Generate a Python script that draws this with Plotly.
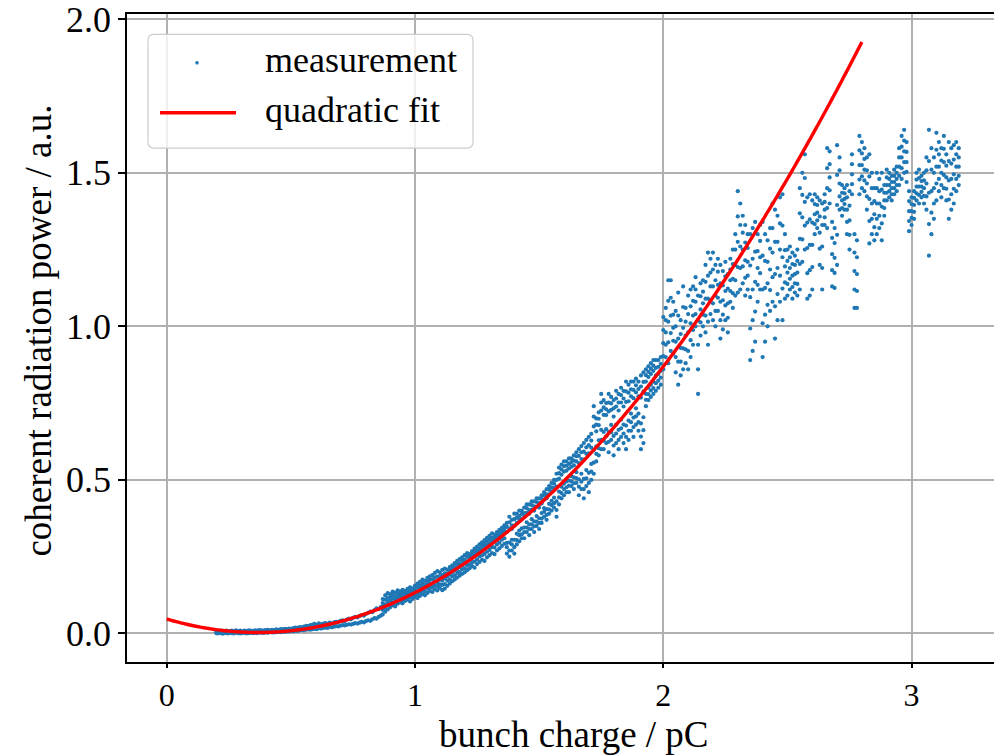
import numpy as np
import plotly.graph_objects as go

# ---- measured data: bunch charge (pC) vs coherent radiation power (a.u.) ----
# low-charge range, narrow band (two rows of samples per charge value)
charge_a = [0.200, 0.206, 0.213, 0.219, 0.226, 0.232, 0.240, 0.247, 0.255, 0.262,
            0.270, 0.279, 0.287, 0.296, 0.304, 0.313, 0.321, 0.330, 0.338, 0.347,
            0.355, 0.364, 0.372, 0.381, 0.390, 0.398, 0.407, 0.416, 0.424, 0.433,
            0.441, 0.450, 0.459, 0.467, 0.476, 0.484, 0.493, 0.502, 0.510, 0.519,
            0.527, 0.536, 0.545, 0.553, 0.562, 0.571, 0.579, 0.588, 0.596, 0.605,
            0.613, 0.622, 0.631, 0.639, 0.648, 0.656, 0.665, 0.674, 0.682, 0.691,
            0.699, 0.708, 0.716, 0.725, 0.734, 0.742, 0.751, 0.759, 0.768, 0.777,
            0.785, 0.794, 0.802, 0.811, 0.820, 0.828, 0.837, 0.845, 0.854, 0.862]
power_a_lo = [0.001, 0.000, 0.002, 0.001, -0.001, 0.002, 0.001, 0.000, 0.002, 0.001,
              0.000, 0.002, 0.001, 0.000, 0.001, 0.002, 0.000, 0.001, 0.002, 0.001,
              0.002, 0.001, 0.003, 0.002, 0.002, 0.003, 0.002, 0.004, 0.003, 0.003,
              0.004, 0.005, 0.004, 0.006, 0.005, 0.007, 0.006, 0.008, 0.007, 0.009,
              0.008, 0.010, 0.011, 0.010, 0.012, 0.013, 0.012, 0.014, 0.015, 0.014,
              0.017, 0.016, 0.018, 0.019, 0.018, 0.021, 0.020, 0.022, 0.024, 0.023,
              0.025, 0.027, 0.026, 0.028, 0.030, 0.029, 0.031, 0.034, 0.032, 0.035,
              0.038, 0.036, 0.040, 0.043, 0.041, 0.046, 0.050, 0.048, 0.054, 0.058]
power_a_hi = [0.006, 0.008, 0.007, 0.009, 0.008, 0.007, 0.009, 0.008, 0.007, 0.009,
              0.008, 0.010, 0.008, 0.009, 0.007, 0.009, 0.008, 0.010, 0.009, 0.008,
              0.010, 0.009, 0.011, 0.010, 0.009, 0.011, 0.012, 0.010, 0.012, 0.011,
              0.013, 0.012, 0.014, 0.013, 0.015, 0.014, 0.016, 0.015, 0.017, 0.019,
              0.018, 0.021, 0.020, 0.022, 0.025, 0.024, 0.027, 0.029, 0.031, 0.028,
              0.033, 0.030, 0.032, 0.034, 0.031, 0.035, 0.033, 0.036, 0.038, 0.037,
              0.041, 0.043, 0.040, 0.045, 0.048, 0.046, 0.051, 0.054, 0.052, 0.057,
              0.060, 0.058, 0.063, 0.067, 0.071, 0.069, 0.076, 0.082, 0.079, 0.086]

# 0.87 - 1.36 pC
charge_b = [0.870, 0.880, 0.890, 0.900, 0.910, 0.920, 0.930, 0.940, 0.950, 0.960,
            0.970, 0.980, 0.990, 1.000, 1.010, 1.020, 1.030, 1.040, 1.050, 1.060,
            1.070, 1.080, 1.090, 1.100, 1.110, 1.120, 1.130, 1.140, 1.150, 1.160,
            1.170, 1.180, 1.190, 1.200, 1.210, 1.220, 1.230, 1.240, 1.250, 1.260,
            1.270, 1.280, 1.290, 1.300, 1.310, 1.320, 1.330, 1.340, 1.350, 1.360]
power_b_1 = [0.062, 0.071, 0.078, 0.085, 0.092, 0.088, 0.097, 0.101, 0.098, 0.106,
             0.110, 0.104, 0.112, 0.118, 0.115, 0.122, 0.128, 0.124, 0.132, 0.138,
             0.135, 0.143, 0.140, 0.148, 0.141, 0.146, 0.155, 0.163, 0.170, 0.176,
             0.182, 0.188, 0.194, 0.199, 0.206, 0.212, 0.219, 0.214, 0.226, 0.233,
             0.240, 0.236, 0.248, 0.255, 0.262, 0.258, 0.270, 0.277, 0.285, 0.292]
power_b_2 = [0.077, 0.081, 0.092, 0.095, 0.101, 0.100, 0.106, 0.113, 0.107, 0.117,
             0.119, 0.117, 0.125, 0.128, 0.127, 0.133, 0.141, 0.136, 0.146, 0.149,
             0.149, 0.155, 0.154, 0.160, 0.158, 0.161, 0.172, 0.176, 0.186, 0.189,
             0.197, 0.200, 0.209, 0.212, 0.221, 0.225, 0.232, 0.234, 0.241, 0.251,
             0.254, 0.259, 0.266, 0.272, 0.281, 0.280, 0.290, 0.296, 0.305, 0.310]
power_b_3 = [0.088, 0.094, 0.102, 0.108, 0.114, 0.111, 0.118, 0.122, 0.119, 0.126,
             0.131, 0.128, 0.135, 0.140, 0.137, 0.146, 0.152, 0.149, 0.158, 0.163,
             0.160, 0.170, 0.166, 0.175, 0.172, 0.180, 0.186, 0.192, 0.199, 0.205,
             0.210, 0.216, 0.222, 0.228, 0.234, 0.240, 0.247, 0.252, 0.259, 0.266,
             0.272, 0.279, 0.285, 0.292, 0.298, 0.305, 0.311, 0.318, 0.324, 0.331]
power_b_4 = [0.099, 0.110, 0.115, 0.119, 0.126, 0.121, 0.130, 0.128, 0.132, 0.133,
             0.139, 0.138, 0.142, 0.148, 0.150, 0.156, 0.164, 0.160, 0.170, 0.175,
             0.176, 0.183, 0.185, 0.187, 0.190, 0.196, 0.196, 0.205, 0.211, 0.216,
             0.224, 0.228, 0.236, 0.240, 0.249, 0.250, 0.257, 0.265, 0.271, 0.277,
             0.285, 0.291, 0.298, 0.305, 0.311, 0.313, 0.321, 0.327, 0.335, 0.341]
power_b_5 = [0.112, 0.124, 0.131, 0.128, 0.136, 0.133, 0.140, 0.137, 0.142, 0.139,
             0.145, 0.150, 0.147, 0.156, 0.162, 0.168, 0.175, 0.172, 0.181, 0.186,
             0.190, 0.197, 0.203, 0.199, 0.207, 0.211, 0.208, 0.216, 0.222, 0.229,
             0.236, 0.242, 0.248, 0.255, 0.262, 0.258, 0.268, 0.276, 0.283, 0.290,
             0.297, 0.304, 0.311, 0.318, 0.326, 0.322, 0.330, 0.337, 0.344, 0.352]

# 1.37 - 1.96 pC
charge_c = [1.37, 1.38, 1.39, 1.40, 1.41, 1.42, 1.43, 1.44, 1.45, 1.46,
            1.47, 1.48, 1.49, 1.50, 1.51, 1.52, 1.53, 1.54, 1.55, 1.56,
            1.57, 1.58, 1.59, 1.60, 1.61, 1.62, 1.63, 1.64, 1.65, 1.66,
            1.67, 1.68, 1.69, 1.70, 1.71, 1.72, 1.73, 1.74, 1.75, 1.76,
            1.77, 1.78, 1.79, 1.80, 1.81, 1.82, 1.83, 1.84, 1.85, 1.86,
            1.87, 1.88, 1.89, 1.90, 1.91, 1.92, 1.93, 1.94, 1.95, 1.96]
power_c_1 = [0.26, 0.25, 0.27, 0.26, 0.29, 0.30, 0.31, 0.31, 0.33, 0.32,
             0.34, 0.33, 0.35, 0.34, 0.36, 0.38, 0.37, 0.39, 0.40, 0.41,
             0.38, 0.42, 0.44, 0.45, 0.46, 0.46, 0.48, 0.47, 0.49, 0.45,
             0.47, 0.44, 0.48, 0.46, 0.50, 0.52, 0.56, 0.58, 0.60, 0.60,
             0.62, 0.59, 0.63, 0.58, 0.62, 0.60, 0.64, 0.62, 0.60, 0.63,
             0.66, 0.64, 0.68, 0.66, 0.60, 0.62, 0.74, 0.76, 0.77, 0.78]
power_c_2 = [0.281, 0.270, 0.290, 0.281, 0.304, 0.320, 0.323, 0.330, 0.345, 0.340,
             0.355, 0.349, 0.364, 0.360, 0.374, 0.396, 0.386, 0.404, 0.418, 0.424,
             0.402, 0.443, 0.457, 0.470, 0.476, 0.481, 0.495, 0.489, 0.506, 0.478,
             0.494, 0.470, 0.505, 0.490, 0.527, 0.556, 0.585, 0.603, 0.630, 0.628,
             0.642, 0.624, 0.655, 0.612, 0.651, 0.630, 0.668, 0.651, 0.640, 0.660,
             0.688, 0.672, 0.707, 0.688, 0.641, 0.662, 0.761, 0.779, 0.791, 0.799]
power_c_3 = [0.295, 0.296, 0.305, 0.305, 0.325, 0.335, 0.342, 0.345, 0.362, 0.355,
             0.372, 0.365, 0.382, 0.375, 0.392, 0.408, 0.405, 0.422, 0.432, 0.442,
             0.430, 0.462, 0.478, 0.488, 0.495, 0.498, 0.512, 0.508, 0.525, 0.502,
             0.520, 0.503, 0.532, 0.523, 0.552, 0.597, 0.609, 0.629, 0.663, 0.656,
             0.665, 0.656, 0.679, 0.643, 0.680, 0.663, 0.696, 0.680, 0.677, 0.693,
             0.716, 0.703, 0.733, 0.716, 0.684, 0.704, 0.780, 0.800, 0.810, 0.820]
power_c_4 = [0.330, 0.341, 0.340, 0.351, 0.360, 0.370, 0.373, 0.380, 0.393, 0.390,
             0.403, 0.400, 0.413, 0.410, 0.423, 0.436, 0.440, 0.453, 0.463, 0.473,
             0.478, 0.504, 0.517, 0.527, 0.530, 0.537, 0.543, 0.547, 0.560, 0.555,
             0.568, 0.566, 0.585, 0.586, 0.605, 0.674, 0.658, 0.678, 0.726, 0.712,
             0.711, 0.723, 0.728, 0.706, 0.739, 0.726, 0.752, 0.739, 0.754, 0.756,
             0.772, 0.766, 0.785, 0.772, 0.768, 0.788, 0.820, 0.835, 0.845, 0.855]
power_c_5 = [0.347, 0.362, 0.352, 0.372, 0.377, 0.383, 0.389, 0.392, 0.408, 0.402,
             0.418, 0.414, 0.428, 0.424, 0.438, 0.450, 0.453, 0.468, 0.476, 0.488,
             0.500, 0.522, 0.534, 0.545, 0.546, 0.552, 0.558, 0.563, 0.577, 0.578,
             0.590, 0.592, 0.606, 0.613, 0.628, 0.706, 0.680, 0.699, 0.752, 0.736,
             0.730, 0.752, 0.749, 0.733, 0.765, 0.752, 0.776, 0.765, 0.788, 0.784,
             0.795, 0.793, 0.808, 0.796, 0.804, 0.819, 0.841, 0.852, 0.862, 0.872]
power_c_6 = [0.36, 0.38, 0.37, 0.39, 0.39, 0.40, 0.40, 0.41, 0.42, 0.42,
             0.43, 0.43, 0.44, 0.44, 0.45, 0.46, 0.47, 0.48, 0.49, 0.50,
             0.52, 0.54, 0.55, 0.56, 0.56, 0.57, 0.57, 0.58, 0.59, 0.60,
             0.61, 0.62, 0.63, 0.64, 0.65, 0.74, 0.70, 0.72, 0.78, 0.76,
             0.75, 0.78, 0.77, 0.76, 0.79, 0.78, 0.80, 0.79, 0.82, 0.81,
             0.82, 0.82, 0.83, 0.82, 0.84, 0.85, 0.86, 0.87, 0.88, 0.89]

# 1.97 - 2.55 pC
charge_d = [1.97, 1.98, 1.99, 2.00, 2.01, 2.02, 2.03, 2.04, 2.05, 2.06,
            2.07, 2.08, 2.09, 2.10, 2.11, 2.12, 2.13, 2.14, 2.15, 2.16,
            2.17, 2.18, 2.19, 2.20, 2.21, 2.22, 2.23, 2.24, 2.25, 2.26,
            2.27, 2.28, 2.29, 2.30, 2.31, 2.32, 2.33, 2.34, 2.35, 2.36,
            2.37, 2.38, 2.39, 2.40, 2.41, 2.42, 2.43, 2.44, 2.45, 2.46,
            2.47, 2.48, 2.49, 2.50, 2.51, 2.52, 2.53, 2.54, 2.55]
power_d_1 = [0.79, 0.80, 0.81, 0.86, 0.90, 0.88, 0.92, 0.91, 0.85, 0.81,
             0.84, 0.86, 0.88, 0.86, 0.90, 0.94, 1.00, 0.78, 0.97, 1.00,
             0.98, 0.94, 1.04, 1.02, 1.00, 1.05, 0.96, 0.99, 1.02, 0.98,
             1.08, 1.06, 1.10, 1.11, 1.12, 1.14, 1.10, 1.12, 0.89, 0.92,
             0.95, 1.08, 1.12, 0.90, 0.95, 1.00, 1.05, 1.08, 0.96, 1.02,
             1.08, 1.02, 1.09, 1.10, 1.12, 1.09, 1.11, 1.10, 1.12]
power_d_2 = [0.815, 0.823, 0.833, 0.903, 0.940, 0.948, 0.978, 0.953, 0.900, 0.885,
             0.885, 0.928, 0.925, 0.920, 0.955, 0.988, 1.040, 0.860, 1.013, 1.038,
             1.035, 1.015, 1.085, 1.075, 1.050, 1.093, 1.020, 1.038, 1.068, 1.028,
             1.115, 1.108, 1.150, 1.193, 1.190, 1.195, 1.158, 1.165, 0.993, 1.020,
             1.048, 1.135, 1.173, 1.010, 1.038, 1.070, 1.118, 1.160, 1.065, 1.105,
             1.165, 1.123, 1.143, 1.138, 1.155, 1.128, 1.140, 1.138, 1.203]
power_d_3 = [0.840, 0.845, 0.855, 0.945, 0.980, 1.015, 1.035, 0.995, 0.950, 0.960,
             0.930, 0.995, 0.970, 0.980, 1.010, 1.035, 1.080, 0.940, 1.055, 1.075,
             1.090, 1.090, 1.130, 1.130, 1.100, 1.135, 1.080, 1.085, 1.115, 1.075,
             1.150, 1.155, 1.200, 1.275, 1.260, 1.250, 1.215, 1.210, 1.095, 1.120,
             1.145, 1.190, 1.225, 1.120, 1.125, 1.140, 1.185, 1.240, 1.170, 1.190,
             1.250, 1.225, 1.195, 1.175, 1.190, 1.165, 1.170, 1.175, 1.285]
power_d_4 = [0.865, 0.868, 0.878, 0.988, 1.020, 1.083, 1.093, 1.038, 1.000, 1.035,
             0.975, 1.063, 1.015, 1.040, 1.065, 1.083, 1.120, 1.020, 1.098, 1.113,
             1.145, 1.165, 1.175, 1.185, 1.150, 1.178, 1.140, 1.133, 1.163, 1.123,
             1.185, 1.203, 1.250, 1.358, 1.330, 1.305, 1.273, 1.255, 1.198, 1.220,
             1.243, 1.245, 1.278, 1.230, 1.213, 1.210, 1.253, 1.320, 1.275, 1.275,
             1.335, 1.328, 1.248, 1.213, 1.225, 1.203, 1.200, 1.213, 1.368]
power_d_5 = [0.89, 0.89, 0.90, 1.03, 1.06, 1.15, 1.15, 1.08, 1.05, 1.11,
             1.02, 1.13, 1.06, 1.10, 1.12, 1.13, 1.16, 1.10, 1.14, 1.15,
             1.20, 1.24, 1.22, 1.24, 1.20, 1.22, 1.20, 1.18, 1.21, 1.17,
             1.22, 1.25, 1.30, 1.44, 1.40, 1.36, 1.33, 1.30, 1.30, 1.32,
             1.34, 1.30, 1.33, 1.34, 1.30, 1.28, 1.32, 1.40, 1.38, 1.36,
             1.42, 1.43, 1.30, 1.25, 1.26, 1.24, 1.23, 1.25, 1.45]

# 2.56 - 3.19 pC
charge_e = [2.56, 2.57, 2.58, 2.59, 2.60, 2.61, 2.62, 2.63, 2.64, 2.65,
            2.66, 2.67, 2.68, 2.69, 2.70, 2.71, 2.72, 2.73, 2.74, 2.75,
            2.76, 2.77, 2.78, 2.79, 2.80, 2.81, 2.82, 2.83, 2.84, 2.85,
            2.86, 2.87, 2.88, 2.89, 2.90, 2.91, 2.92, 2.93, 2.94, 2.95,
            2.96, 2.97, 2.98, 2.99, 3.00, 3.01, 3.02, 3.03, 3.04, 3.05,
            3.06, 3.07, 3.08, 3.09, 3.10, 3.11, 3.12, 3.13, 3.14, 3.15,
            3.16, 3.17, 3.18, 3.19]
power_e_1 = [1.21, 1.25, 1.09, 1.10, 1.12, 1.30, 1.32, 1.20, 1.12, 1.33,
             1.32, 1.40, 1.13, 1.125, 1.20, 1.38, 1.36, 1.38, 1.30, 1.25,
             1.43, 1.06, 1.06, 1.43, 1.45, 1.44, 1.38, 1.27, 1.30, 1.28,
             1.30, 1.32, 1.28, 1.36, 1.41, 1.42, 1.41, 1.43, 1.44, 1.46,
             1.48, 1.50, 1.47, 1.31, 1.33, 1.35, 1.41, 1.40, 1.42, 1.40,
             1.38, 1.23, 1.30, 1.35, 1.41, 1.44, 1.42, 1.45, 1.41, 1.35,
             1.38, 1.40, 1.44, 1.46]
power_e_2 = [1.283, 1.328, 1.173, 1.183, 1.193, 1.333, 1.345, 1.253, 1.190, 1.355,
             1.385, 1.443, 1.183, 1.174, 1.298, 1.423, 1.385, 1.398, 1.340, 1.298,
             1.463, 1.120, 1.115, 1.478, 1.488, 1.475, 1.423, 1.343, 1.350, 1.323,
             1.350, 1.360, 1.335, 1.385, 1.435, 1.440, 1.430, 1.450, 1.460, 1.490,
             1.515, 1.535, 1.503, 1.343, 1.353, 1.373, 1.433, 1.428, 1.438, 1.425,
             1.423, 1.333, 1.370, 1.400, 1.465, 1.480, 1.460, 1.493, 1.448, 1.413,
             1.430, 1.448, 1.480, 1.490]
power_e_3 = [1.355, 1.405, 1.255, 1.265, 1.265, 1.365, 1.370, 1.305, 1.260, 1.380,
             1.450, 1.485, 1.235, 1.223, 1.395, 1.465, 1.410, 1.415, 1.380, 1.345,
             1.495, 1.180, 1.170, 1.525, 1.525, 1.510, 1.465, 1.415, 1.400, 1.365,
             1.400, 1.400, 1.390, 1.410, 1.460, 1.460, 1.450, 1.470, 1.480, 1.520,
             1.550, 1.570, 1.535, 1.375, 1.375, 1.395, 1.455, 1.455, 1.455, 1.450,
             1.465, 1.435, 1.440, 1.450, 1.520, 1.520, 1.500, 1.535, 1.485, 1.475,
             1.480, 1.495, 1.520, 1.520]
power_e_4 = [1.428, 1.483, 1.338, 1.348, 1.338, 1.398, 1.395, 1.358, 1.330, 1.405,
             1.515, 1.528, 1.288, 1.271, 1.493, 1.508, 1.435, 1.433, 1.420, 1.393,
             1.528, 1.240, 1.225, 1.573, 1.563, 1.545, 1.508, 1.488, 1.450, 1.408,
             1.450, 1.440, 1.445, 1.435, 1.485, 1.480, 1.470, 1.490, 1.500, 1.550,
             1.585, 1.605, 1.568, 1.408, 1.398, 1.418, 1.478, 1.483, 1.473, 1.475,
             1.508, 1.538, 1.510, 1.500, 1.575, 1.560, 1.540, 1.578, 1.523, 1.538,
             1.530, 1.543, 1.560, 1.550]
power_e_5 = [1.50, 1.56, 1.42, 1.43, 1.41, 1.43, 1.42, 1.41, 1.40, 1.43,
             1.58, 1.57, 1.34, 1.32, 1.59, 1.55, 1.46, 1.45, 1.46, 1.44,
             1.56, 1.30, 1.28, 1.62, 1.60, 1.58, 1.55, 1.56, 1.50, 1.45,
             1.50, 1.48, 1.50, 1.46, 1.51, 1.50, 1.49, 1.51, 1.52, 1.58,
             1.62, 1.64, 1.60, 1.44, 1.42, 1.44, 1.50, 1.51, 1.49, 1.50,
             1.55, 1.64, 1.58, 1.55, 1.63, 1.60, 1.58, 1.62, 1.56, 1.60,
             1.58, 1.59, 1.60, 1.58]

# quadratic fit P(Q) = a*Q^2 + b*Q + c, evaluated over the fitted charge span
fit_coeffs = [0.325, -0.239, 0.047]
fit_span = [0.0, 2.8]

x_ticks = [0, 1, 2, 3]
y_ticks = [0.0, 0.5, 1.0, 1.5, 2.0]

series_labels = ["measurement", "quadratic fit"]
x_label = "bunch charge / pC"
y_label = "coherent radiation power / a.u."


def gather(charge, *powers):
    xs, ys = [], []
    for p in powers:
        for q, v in zip(charge, p):
            xs.append(q)
            ys.append(v)
    return xs, ys


groups = [
    gather(charge_a, power_a_lo, power_a_hi),
    gather(charge_b, power_b_1, power_b_2, power_b_3, power_b_4, power_b_5),
    gather(charge_c, power_c_1, power_c_2, power_c_3, power_c_4, power_c_5, power_c_6),
    gather(charge_d, power_d_1, power_d_2, power_d_3, power_d_4, power_d_5),
    gather(charge_e, power_e_1, power_e_2, power_e_3, power_e_4, power_e_5),
]
meas_x = [q for g in groups for q in g[0]]
meas_y = [v for g in groups for v in g[1]]

fit_x = np.linspace(fit_span[0], fit_span[1], 300)
fit_y = np.polyval(fit_coeffs, fit_x)

BLUE = "#1f77b4"
RED = "#ff0000"
FONT = "Liberation Serif, Times New Roman, serif"
FS_YTICK = 36
FS_XTICK = 32
FS_TITLE = 37
FS_LEGEND = 36

fig = go.Figure()
fig.add_trace(go.Scatter(x=meas_x, y=meas_y, mode="markers", name=series_labels[0],
                         marker=dict(color=BLUE, size=4.2, line=dict(width=0))))
fig.add_trace(go.Scatter(x=fit_x, y=fit_y, mode="lines", name=series_labels[1],
                         line=dict(color=RED, width=3.4, simplify=False)))

axis_common = dict(
    showline=True, linecolor="black", linewidth=1.5,
    ticks="outside", tickwidth=1.5, tickcolor="black",
    showgrid=True, gridcolor="#b0b0b0", gridwidth=1.5,
    zeroline=False, ticklabeloverflow="allow",
)
fig.update_xaxes(range=[-0.16, 3.332], tickvals=x_ticks, ticktext=[str(t) for t in x_ticks],
                 mirror=True, ticklen=4,
                 tickfont=dict(family=FONT, size=FS_XTICK, color="black"),
                 **axis_common)
fig.update_yaxes(range=[-0.093, 2.017], tickvals=y_ticks, ticktext=[f"{t:.1f}" for t in y_ticks],
                 mirror=False, ticklen=7,
                 tickfont=dict(family=FONT, size=FS_YTICK, color="black"),
                 **axis_common)

# legend box (rounded frame, semi-transparent fill) in paper coordinates
x0, x1, y0, y1 = 0.02422, 0.39908, 0.7931, 0.96846
rx, ry = 0.0069, 0.0092
box = (f"M {x0+rx},{y0} L {x1-rx},{y0} Q {x1},{y0} {x1},{y0+ry} "
       f"L {x1},{y1-ry} Q {x1},{y1} {x1-rx},{y1} L {x0+rx},{y1} "
       f"Q {x0},{y1} {x0},{y1-ry} L {x0},{y0+ry} Q {x0},{y0} {x0+rx},{y0} Z")
shapes = [
    dict(type="path", path=box, xref="paper", yref="paper", layer="above",
         fillcolor="rgba(255,255,255,0.8)", line=dict(color="#cccccc", width=1.2)),
    dict(type="circle", xref="paper", yref="paper", layer="above",
         x0=0.08074 - 0.0021, x1=0.08074 + 0.0021, y0=0.92462 - 0.0028, y1=0.92462 + 0.0028,
         fillcolor=BLUE, line=dict(width=0)),
    dict(type="line", xref="paper", yref="paper", layer="above",
         x0=0.03806, x1=0.12572, y0=0.84769, y1=0.84769, line=dict(color=RED, width=3.6)),
]
annotations = [
    dict(text=series_labels[0], x=0.15686, y=0.9292, xref="paper", yref="paper",
         xanchor="left", yanchor="middle", showarrow=False,
         font=dict(family=FONT, size=FS_LEGEND)),
    dict(text=series_labels[1], x=0.15686, y=0.8515, xref="paper", yref="paper",
         xanchor="left", yanchor="middle", showarrow=False,
         font=dict(family=FONT, size=FS_LEGEND)),
    dict(text=x_label, x=0.5156, y=-0.1114, xref="paper", yref="paper",
         xanchor="center", yanchor="middle", showarrow=False,
         font=dict(family=FONT, size=FS_TITLE)),
    dict(text=y_label, x=-0.1015, y=0.5115, xref="paper", yref="paper", textangle=-90,
         xanchor="center", yanchor="middle", showarrow=False,
         font=dict(family=FONT, size=FS_TITLE)),
]

fig.update_layout(
    width=994, height=755,
    margin=dict(l=127, r=0, t=12, b=93, pad=0),
    plot_bgcolor="white", paper_bgcolor="white",
    showlegend=False,
    font=dict(family=FONT, size=FS_YTICK, color="black"),
    shapes=shapes, annotations=annotations,
)

fig.write_html("out.html")
